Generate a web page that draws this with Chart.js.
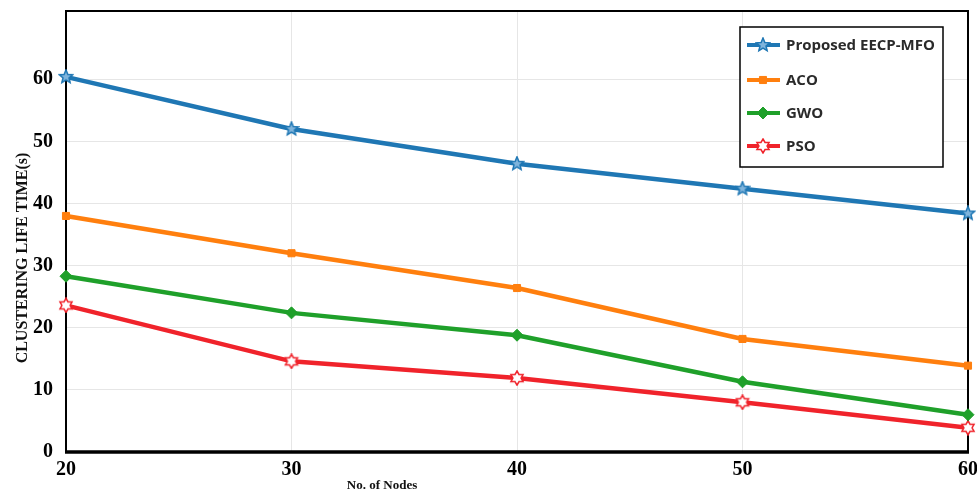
<!DOCTYPE html>
<html>
<head>
<meta charset="utf-8">
<script src="https://cdn.jsdelivr.net/npm/chart.js@4.4.1/dist/chart.umd.min.js"></script>
<style>
  html, body { margin: 0; padding: 0; background: #fff; }
  #wrap { position: relative; width: 977px; height: 495px; }
</style>
</head>
<body>
<div id="wrap"><canvas id="myChart"></canvas></div>
<script>
const nodes = [20, 30, 40, 50, 60];
const eecpMfo = [60.4, 52.0, 46.4, 42.4, 38.4];
const aco = [38.0, 32.0, 26.4, 18.2, 13.9];
const gwo = [28.3, 22.4, 18.8, 11.3, 6.0];
const pso = [23.6, 14.6, 11.9, 8.0, 3.9];
const seriesNames = ["Proposed EECP-MFO", "ACO", "GWO", "PSO"];
const yTickValues = [0, 10, 20, 30, 40, 50, 60];

const myChart = document.getElementById("myChart");

// star shaped markers drawn on small canvases
const starMarker = (color, fill, spikes, inner) => {
  const c = document.createElement("canvas");
  c.width = 16; c.height = 16;
  const g = c.getContext("2d");
  const R = 7, r = R * inner;
  g.beginPath();
  for (let i = 0; i < spikes * 2; i++) {
    const a = -Math.PI / 2 + i * Math.PI / spikes;
    const rad = i % 2 === 0 ? R : r;
    g.lineTo(8 + rad * Math.cos(a), 8 + rad * Math.sin(a));
  }
  g.closePath();
  g.fillStyle = fill;
  g.fill();
  g.lineWidth = 1.5;
  g.strokeStyle = color;
  g.stroke();
  return c;
};

const blueStar = starMarker("#1f77b4", "#7fb4dc", 5, 0.45);
const redStar = starMarker("#f0232b", "#ffffff", 6, 0.58);

const colores = ["#1f77b4", "#ff7f0e", "#1fa02a", "#f0232b"];
const estilos = [blueStar, "rect", "rectRot", redStar];
const radios = [6, 5, 6, 6];
const valores = [eecpMfo, aco, gwo, pso];

const toPoints = (arr) => arr.map((v, i) => ({ x: nodes[i], y: v }));

const marco = {
  id: "marco",
  beforeDatasetsDraw(chart) {
    const { ctx, chartArea: a } = chart;
    ctx.save();
    ctx.strokeStyle = "#000";
    ctx.lineWidth = 2;
    ctx.strokeRect(a.left, a.top, a.right - a.left, a.bottom - a.top);
    ctx.lineWidth = 3.5;
    ctx.beginPath();
    ctx.moveTo(a.left - 1, a.bottom);
    ctx.lineTo(a.right + 1, a.bottom);
    ctx.stroke();
    ctx.restore();
  },
  afterDraw(chart) {
    const ctx = chart.ctx;
    ctx.save();
    // axis titles
    ctx.fillStyle = "#111";
    ctx.font = "bold 16px 'Liberation Serif'";
    ctx.textAlign = "center";
    ctx.textBaseline = "middle";
    ctx.translate(23, 258);
    ctx.rotate(-Math.PI / 2);
    ctx.fillText("CLUSTERING LIFE TIME(s)", 0, 0);
    ctx.setTransform(1, 0, 0, 1, 0, 0);
    ctx.font = "bold 13px 'Liberation Serif'";
    ctx.fillText("No. of Nodes", 382, 486);

    // legend box
    const bx = 740, by = 27, bw = 203, bh = 140;
    ctx.fillStyle = "#fff";
    ctx.fillRect(bx, by, bw, bh);
    ctx.strokeStyle = "#000";
    ctx.lineWidth = 1.5;
    ctx.strokeRect(bx, by, bw, bh);
    ctx.font = "bold 15px 'Open Sans'";
    ctx.textAlign = "left";
    const rows = [45, 80, 113, 146];
    seriesNames.forEach((name, i) => {
      const y = rows[i];
      ctx.strokeStyle = colores[i];
      ctx.lineWidth = 4;
      ctx.beginPath();
      ctx.moveTo(747, y);
      ctx.lineTo(780, y);
      ctx.stroke();
      ctx.fillStyle = colores[i];
      ctx.strokeStyle = colores[i];
      ctx.lineWidth = 1;
      Chart.helpers.drawPoint(ctx, { pointStyle: estilos[i], radius: radios[i], rotation: 0, borderWidth: 1 }, 763, y);
      ctx.fillStyle = "#2a2a2a";
      ctx.fillText(name, 786, y + 1);
    });
    ctx.restore();
  },
};

const pintarGrafica = () => {
  new Chart(myChart, {
    type: "line",
    data: {
      datasets: seriesNames.map((name, i) => ({
        label: name,
        data: toPoints(valores[i]),
        borderColor: colores[i],
        backgroundColor: colores[i],
        borderWidth: 4.5,
        pointStyle: estilos[i],
        pointRadius: radios[i],
        pointBorderWidth: 1,
        tension: 0,
        clip: false,
      })),
    },
    options: {
      responsive: false,
      animation: false,
      layout: { padding: { top: 11, right: 9, left: 0, bottom: 0 } },
      plugins: { legend: { display: false }, tooltip: { enabled: false } },
      scales: {
        x: {
          type: "linear",
          min: 20,
          max: 60,
          ticks: {
            stepSize: 10,
            color: "#000",
            padding: 6,
            font: { family: "'Liberation Serif'", size: 20, weight: "bold" },
          },
          grid: { color: "#e6e6e6", drawTicks: false },
          border: { display: false },
          afterFit: (s) => { s.height = 43; s.paddingLeft = 0; s.paddingRight = 0; },
        },
        y: {
          min: 0,
          max: 71,
          afterBuildTicks: (s) => { s.ticks = yTickValues.map((v) => ({ value: v })); },
          ticks: {
            color: "#000",
            padding: 13,
            font: { family: "'Liberation Serif'", size: 20, weight: "bold" },
          },
          grid: { color: "#e6e6e6", drawTicks: false },
          border: { display: false },
          afterFit: (s) => { s.width = 66; s.paddingTop = 0; s.paddingBottom = 0; },
        },
      },
    },
    plugins: [marco],
  });
};

myChart.width = 977;
myChart.height = 495;
window.addEventListener("load", pintarGrafica);
</script>
</body>
</html>
